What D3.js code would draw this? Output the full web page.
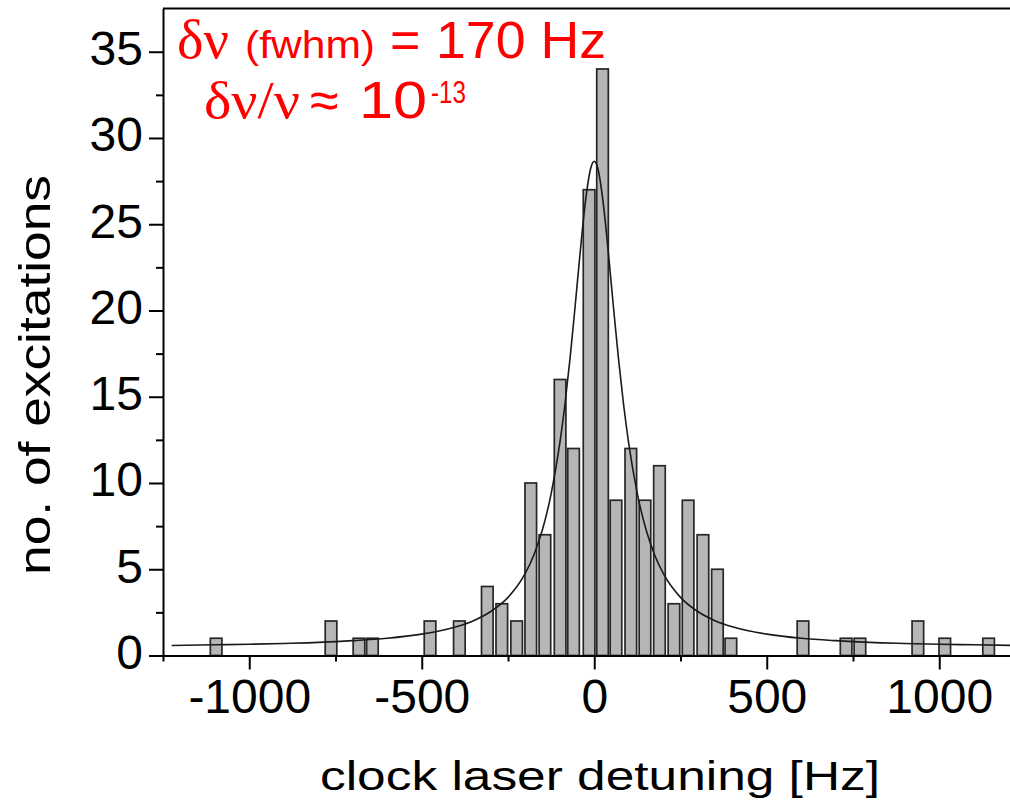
<!DOCTYPE html>
<html>
<head>
<meta charset="utf-8">
<script src="https://cdn.jsdelivr.net/npm/d3@7"></script>
<style>
  html, body { margin: 0; padding: 0; background: #ffffff; }
  svg { display: block; }
</style>
</head>
<body>
<svg id="chart" width="1010" height="809"></svg>
<script>
// ---- data ----
const binCenters = [-1096, -763, -682, -643, -476, -391, -310, -268, -225, -184, -143, -99, -60, -15, 24, 63, 106, 147, 189, 231, 272, 315, 357, 396, 605, 730, 770, 938, 1016, 1143];
const counts     = [1, 2, 1, 1, 2, 2, 4, 3, 2, 10, 7, 16, 12, 27, 34, 9, 12, 9, 11, 3, 9, 7, 5, 1, 2, 1, 1, 2, 1, 1];

const fitX = [-1225, -1100, -1000, -900, -800, -700, -600, -500, -450, -400, -350, -300, -250, -200, -175, -150, -125, -100, -85, -70, -55, -40, -25, -10, 0, 10, 25, 40, 55, 70, 85, 100, 125, 150, 175, 200, 250, 300, 350, 400, 450, 500, 600, 700, 800, 900, 1000, 1100, 1250];
const fitY = [0.58, 0.62, 0.65, 0.70, 0.76, 0.86, 1.00, 1.24, 1.42, 1.67, 2.02, 2.55, 3.37, 4.76, 5.83, 7.30, 9.37, 12.28, 14.55, 17.25, 20.33, 23.54, 26.40, 28.26, 28.65, 28.26, 26.40, 23.54, 20.33, 17.25, 14.55, 12.28, 9.37, 7.30, 5.83, 4.76, 3.37, 2.55, 2.02, 1.67, 1.42, 1.24, 1.00, 0.86, 0.76, 0.70, 0.65, 0.62, 0.57];

const xMajorTicks = [-1000, -500, 0, 500, 1000];
const xMinorTicks = [-1250, -750, -250, 250, 750, 1250];
const yMajorTicks = [0, 5, 10, 15, 20, 25, 30, 35];
const yMinorTicks = [2.5, 7.5, 12.5, 17.5, 22.5, 27.5, 32.5];

const xTitle = "clock laser detuning [Hz]";
const yTitle = "no. of excitations";

// ---- layout ----
const svg = d3.select("#chart");
const W = 1010, H = 809;
svg.append("rect").attr("width", W).attr("height", H).attr("fill", "#fff");

const x = d3.scaleLinear().domain([-1250, 1250]).range([163, 1025.5]);
const y = d3.scaleLinear().domain([0, 37.5]).range([655.5, 8.6]);

const sans = "'Liberation Sans', Arial, Helvetica, sans-serif";
const serif = "'Liberation Serif', 'Times New Roman', serif";

const data = binCenters.map((c, i) => ({ c, n: counts[i] }));
const barW = 11.6;

// bars
svg.append("g")
  .selectAll("rect")
  .data(data)
  .join("rect")
  .attr("x", d => x(d.c) - barW / 2)
  .attr("y", d => y(d.n))
  .attr("width", barW)
  .attr("height", d => y(0) - y(d.n))
  .attr("fill", "#b6b6b6")
  .attr("stroke", "#262626")
  .attr("stroke-width", 1.7);

// fit curve
const line = d3.line()
  .x((d, i) => x(fitX[i]))
  .y((d, i) => y(fitY[i]))
  .curve(d3.curveMonotoneX);
svg.append("path")
  .attr("d", line(fitX))
  .attr("fill", "none")
  .attr("stroke", "#1a1a1a")
  .attr("stroke-width", 1.6);

// axes
function styleAxis(g) {
  g.selectAll("path.domain").attr("stroke", "#000").attr("stroke-width", 2);
  g.selectAll(".tick line").attr("stroke", "#000").attr("stroke-width", 2);
  g.selectAll(".tick text").attr("fill", "#000").attr("font-family", sans).attr("font-size", 48);
}

const fmt = d => String(d);

const gx = svg.append("g").attr("transform", `translate(0,${y(0)})`)
  .call(d3.axisBottom(x).tickValues(xMajorTicks).tickFormat(fmt).tickSize(14).tickSizeOuter(0).tickPadding(9.5));
styleAxis(gx);
const gxm = svg.append("g").attr("transform", `translate(0,${y(0)})`)
  .call(d3.axisBottom(x).tickValues(xMinorTicks).tickFormat("").tickSize(6).tickSizeOuter(0));
styleAxis(gxm);
gxm.select("path.domain").remove();

const gy = svg.append("g").attr("transform", `translate(${x(-1250)},0)`)
  .call(d3.axisLeft(y).tickValues(yMajorTicks).tickFormat(fmt).tickSize(14).tickSizeOuter(0).tickPadding(6));
styleAxis(gy);
gy.selectAll(".tick text").attr("dy", "0.27em");
const gym = svg.append("g").attr("transform", `translate(${x(-1250)},0)`)
  .call(d3.axisLeft(y).tickValues(yMinorTicks).tickFormat("").tickSize(7).tickSizeOuter(0));
styleAxis(gym);
gym.select("path.domain").remove();

// top frame
svg.append("line")
  .attr("x1", x(-1250)).attr("x2", W)
  .attr("y1", y(37.5)).attr("y2", y(37.5))
  .attr("stroke", "#000").attr("stroke-width", 2);

// axis titles
svg.append("text")
  .attr("x", 320).attr("y", 790)
  .attr("font-family", sans).attr("font-size", 40)
  .attr("textLength", 560).attr("lengthAdjust", "spacingAndGlyphs")
  .attr("fill", "#000")
  .text(xTitle);

svg.append("text")
  .attr("transform", "translate(50,375) rotate(-90)")
  .attr("x", -200).attr("y", 0)
  .attr("font-family", sans).attr("font-size", 44)
  .attr("textLength", 400).attr("lengthAdjust", "spacingAndGlyphs")
  .attr("fill", "#000")
  .text(yTitle);

// red annotation
const red = "#ff0000";
function rt(txt, xx, yy, fam, size, len) {
  const t = svg.append("text").attr("x", xx).attr("y", yy)
    .attr("font-family", fam).attr("font-size", size).attr("fill", red).text(txt);
  if (len) t.attr("textLength", len).attr("lengthAdjust", "spacingAndGlyphs");
  return t;
}
rt("δν", 177, 58, serif, 54, 52);
rt("(fwhm)", 245, 58, sans, 38, 130);
rt("=", 390, 58, sans, 52);
rt("170 Hz", 436, 58, sans, 52, 170);

rt("δν/ν", 204, 118, serif, 52, 96);
rt("≈", 310, 118, sans, 52);
rt("10", 359, 118, sans, 51, 68);
rt("-13", 431, 103, sans, 31, 35);
</script>
</body>
</html>
